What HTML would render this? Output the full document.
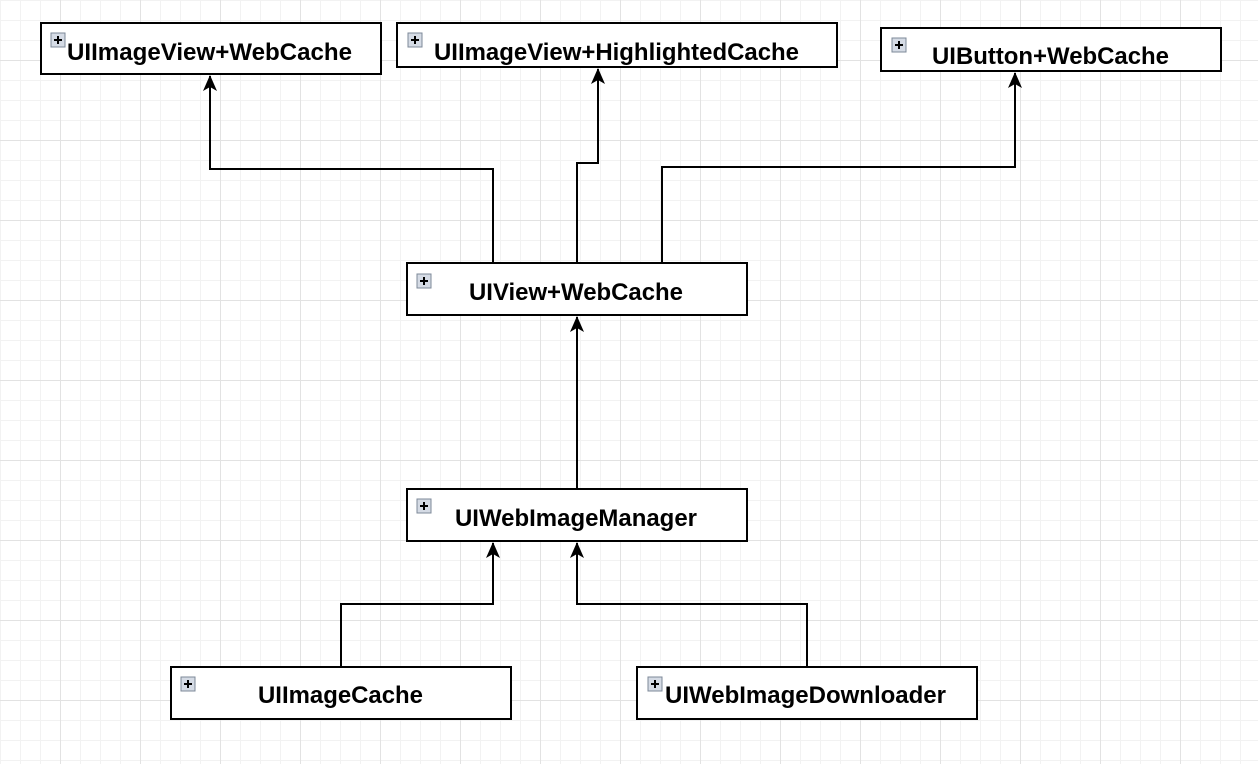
<!DOCTYPE html>
<html><head><meta charset="utf-8"><style>
html,body{margin:0;padding:0}
body{width:1258px;height:764px;overflow:hidden;background:#fff;
background-image:
linear-gradient(to right,#e2e2e2 1px,transparent 1px),
linear-gradient(to bottom,#e2e2e2 1px,transparent 1px),
linear-gradient(to right,#f2f2f2 1px,transparent 1px),
linear-gradient(to bottom,#f2f2f2 1px,transparent 1px);
background-size:80px 80px,80px 80px,20px 20px,20px 20px;
background-position:60px 0,0 60px,0 0,0 0;position:relative}
svg{position:absolute;left:0;top:0}
text{font-family:"Liberation Sans",sans-serif;font-weight:bold;font-size:24px;fill:#000}
</style></head><body>
<svg width="1258" height="764" viewBox="0 0 1258 764">
<defs>
<marker id="a" markerWidth="16" markerHeight="14" refX="15" refY="7" orient="auto" markerUnits="userSpaceOnUse" viewBox="0 0 16 14">
<path d="M0,0 L16,7 L0,14 L4,7 Z" fill="#000"/></marker>
<g id="ic"><rect x="0" y="0" width="14" height="14" fill="#d5dbe5" stroke="#7d8898" stroke-width="1"/><path d="M3,7H11M7,3V11" stroke="#000" stroke-width="2"/></g>
</defs>
<g fill="none" stroke="#000" stroke-width="2">
<path d="M493,263V169H210V76" marker-end="url(#a)"/>
<path d="M577,263V163H598V69" marker-end="url(#a)"/>
<path d="M662,263V167H1015V73" marker-end="url(#a)"/>
<path d="M577,489V317" marker-end="url(#a)"/>
<path d="M341,667V604H493V543" marker-end="url(#a)"/>
<path d="M807,667V604H577V543" marker-end="url(#a)"/>
</g>
<g fill="#fff" stroke="#000" stroke-width="2">
<rect x="41" y="23" width="340" height="51"/>
<rect x="397" y="23" width="440" height="44"/>
<rect x="881" y="28" width="340" height="43"/>
<rect x="407" y="263" width="340" height="52"/>
<rect x="407" y="489" width="340" height="52"/>
<rect x="171" y="667" width="340" height="52"/>
<rect x="637" y="667" width="340" height="52"/>
</g>
<use href="#ic" x="51" y="33"/>
<use href="#ic" x="408" y="33"/>
<use href="#ic" x="892" y="38"/>
<use href="#ic" x="417" y="274"/>
<use href="#ic" x="417" y="499"/>
<use href="#ic" x="181" y="677"/>
<use href="#ic" x="648" y="677"/>
<text x="67" y="60" textLength="285" lengthAdjust="spacingAndGlyphs">UIImageView+WebCache</text>
<text x="434" y="60" textLength="365" lengthAdjust="spacingAndGlyphs">UIImageView+HighlightedCache</text>
<text x="932" y="64" textLength="237" lengthAdjust="spacingAndGlyphs">UIButton+WebCache</text>
<text x="469" y="300" textLength="214" lengthAdjust="spacingAndGlyphs">UIView+WebCache</text>
<text x="455" y="526" textLength="242" lengthAdjust="spacingAndGlyphs">UIWebImageManager</text>
<text x="258" y="703" textLength="165" lengthAdjust="spacingAndGlyphs">UIImageCache</text>
<text x="665" y="703" textLength="281" lengthAdjust="spacingAndGlyphs">UIWebImageDownloader</text>
</svg>
</body></html>
